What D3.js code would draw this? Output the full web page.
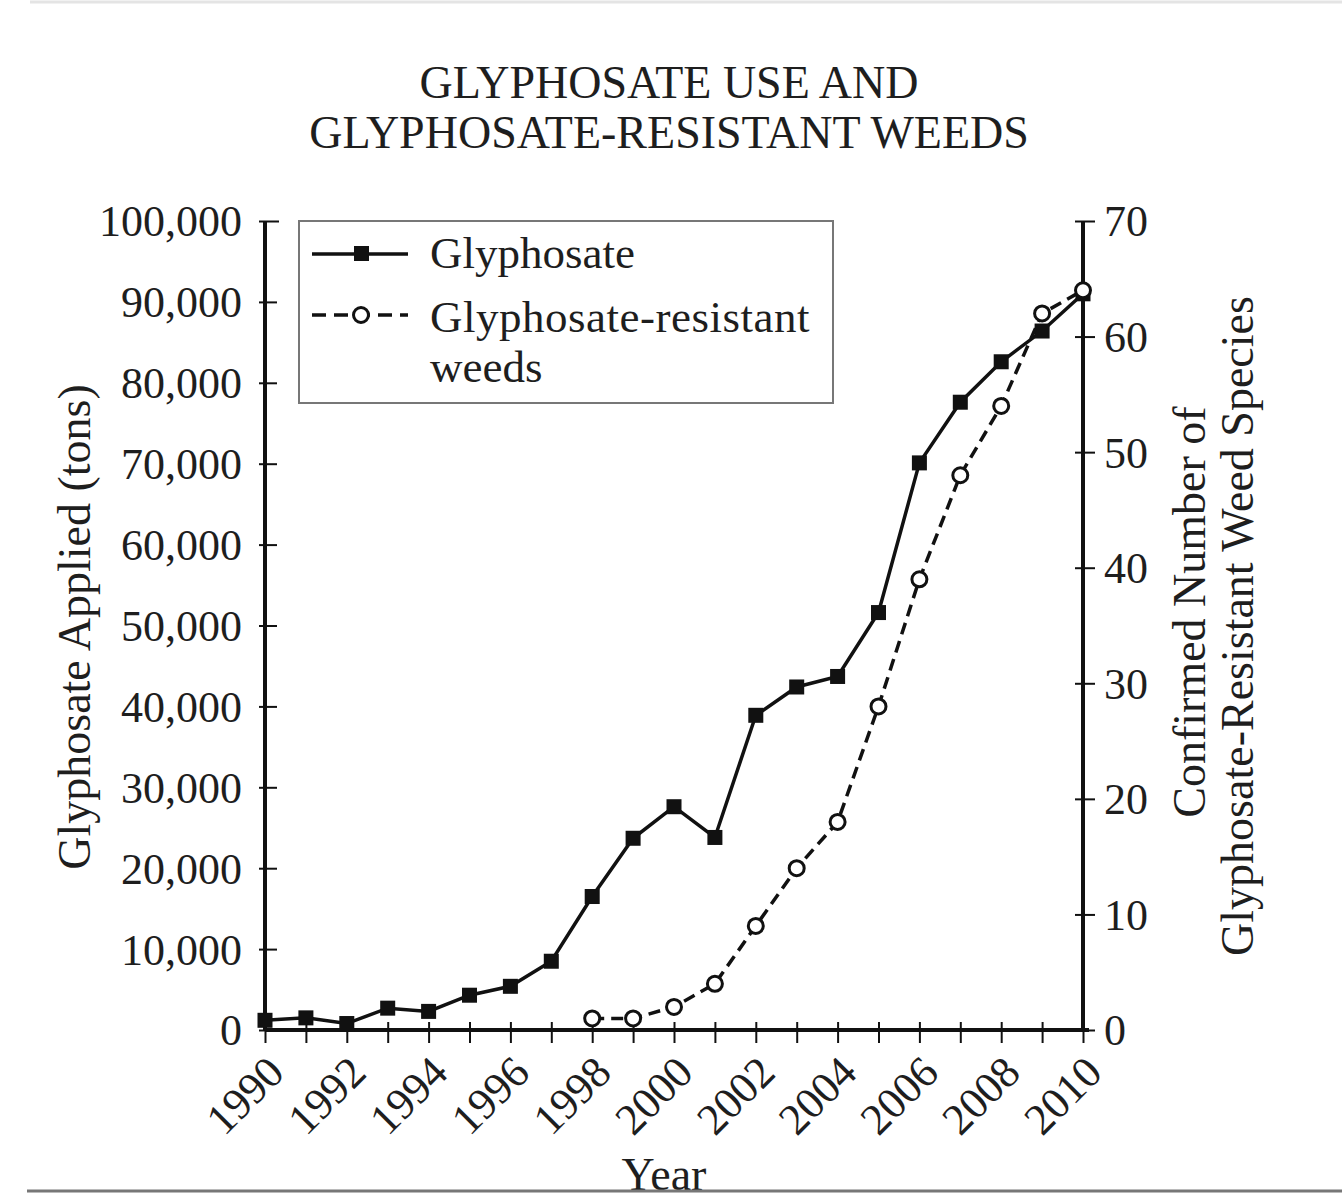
<!DOCTYPE html>
<html>
<head>
<meta charset="utf-8">
<script src="https://cdn.jsdelivr.net/npm/d3@7"></script>
<style>
  html, body { margin: 0; padding: 0; background: #fff; }
  svg { display: block; }
  text { font-family: "Liberation Serif", "Times New Roman", serif; fill: #1e1e1e; }
</style>
</head>
<body>
<svg id="chart" width="1342" height="1200"></svg>
<script>
// ---- data ----
const years = [1990,1991,1992,1993,1994,1995,1996,1997,1998,1999,2000,2001,2002,2003,2004,2005,2006,2007,2008,2009,2010];
const glyphosateTons = [1200,1500,800,2700,2300,4300,5400,8500,16500,23700,27600,23800,38900,42400,43700,51600,70100,77600,82600,86400,91000];
const weedYears = [1998,1999,2000,2001,2002,2003,2004,2005,2006,2007,2008,2009,2010];
const weedSpecies = [1,1,2,4,9,14,18,28,39,48,54,62,64];
const leftTicks = [0,10000,20000,30000,40000,50000,60000,70000,80000,90000,100000];
const rightTicks = [0,10,20,30,40,50,60,70];
const xTickLabels = [1990,1992,1994,1996,1998,2000,2002,2004,2006,2008,2010];
const titleLines = ["GLYPHOSATE USE AND", "GLYPHOSATE-RESISTANT WEEDS"];
const leftTitle = "Glyphosate Applied (tons)";
const rightTitleLines = ["Confirmed Number of", "Glyphosate-Resistant Weed Species"];
const legendLabels = ["Glyphosate", "Glyphosate-resistant", "weeds"];

// ---- layout ----
const svg = d3.select("#chart");
const X0 = 265, X1 = 1083, Y0 = 1030, Y1 = 221;
const x = d3.scaleLinear().domain([1990, 2010]).range([X0, X1]);
const yL = d3.scaleLinear().domain([0, 100000]).range([Y0, Y1]);
const yR = d3.scaleLinear().domain([0, 70]).range([Y0, Y1]);

// page rules
svg.append("line").attr("x1", 30).attr("x2", 1342).attr("y1", 2).attr("y2", 2)
  .attr("stroke", "#e4e4e4").attr("stroke-width", 3);

// title
const title = svg.append("text").attr("text-anchor", "middle").style("font-size", "46px");
titleLines.forEach((t, i) => {
  title.append("tspan").attr("x", 669).attr("y", 98 + i * 50).text(t);
});

// axes
const fmt = d3.format(",");
const gL = svg.append("g").attr("transform", `translate(${X0},0)`)
  .call(d3.axisLeft(yL).tickValues(leftTicks).tickFormat(fmt).tickSize(8).tickPadding(15));
const gR = svg.append("g").attr("transform", `translate(${X1},0)`)
  .call(d3.axisRight(yR).tickValues(rightTicks).tickSize(12).tickPadding(10));
const gX = svg.append("g").attr("transform", `translate(0,${Y0})`)
  .call(d3.axisBottom(x).tickValues(years).tickFormat(d => xTickLabels.includes(d) ? d : "").tickSize(13));

[gL, gR, gX].forEach(g => {
  g.select(".domain").attr("stroke", "#111").attr("stroke-width", 4);
  g.selectAll(".tick line").attr("stroke", "#111").attr("stroke-width", 2);
  g.selectAll("text").style("font-size", "44px").attr("fill", "#1e1e1e")
    .style("font-family", "'Liberation Serif', serif");
});
// ticks cross the axis
gL.selectAll(".tick line").attr("x1", -6).attr("x2", 12);
gR.selectAll(".tick line").attr("x1", -8).attr("x2", 12);
gX.selectAll(".tick line").attr("y1", -8).attr("y2", 13);
gL.selectAll(".domain").attr("d", `M0,${Y0}V${Y1}`);
gR.selectAll(".domain").attr("d", `M0,${Y0}V${Y1}`);
gX.selectAll(".domain").attr("d", `M${X0},0H${X1 + 6}`);
gL.selectAll(".tick line").filter(d => d === 100000).attr("x1", -6).attr("x2", 14);
gL.selectAll("text").attr("dy", "0.34em");
gR.selectAll("text").attr("dy", "0.34em").attr("x", 21);

// rotated x labels
gX.selectAll(".tick text")
  .attr("text-anchor", "end")
  .attr("dy", "0.35em")
  .attr("transform", "translate(10,34) rotate(-45)")
  .attr("y", 0).attr("x", 0);

// axis titles
svg.append("text").attr("text-anchor", "middle").style("font-size", "46px")
  .attr("transform", `translate(90,627) rotate(-90)`).text(leftTitle);
const rt = svg.append("text").attr("text-anchor", "middle").style("font-size", "46px")
  .attr("transform", `translate(1205,626) rotate(-90)`);
rightTitleLines.forEach((t, i) => {
  rt.append("tspan").attr("x", i === 0 ? 14 : 0).attr("y", i * 48).text(t);
});

svg.append("text").attr("text-anchor", "middle").style("font-size", "46px")
  .attr("x", 664).attr("y", 1190).text("Year");
svg.append("line").attr("x1", 27).attr("x2", 1342).attr("y1", 1191).attr("y2", 1191)
  .attr("stroke", "#777").attr("stroke-width", 3);

// series 1: glyphosate
const g1 = years.map((yr, i) => ({ yr, v: glyphosateTons[i] }));
svg.append("path").datum(g1)
  .attr("fill", "none").attr("stroke", "#111").attr("stroke-width", 3.5)
  .attr("d", d3.line().x(d => x(d.yr)).y(d => yL(d.v)));
svg.append("g").selectAll("rect").data(g1).join("rect")
  .attr("x", d => x(d.yr) - 7.5).attr("y", d => yL(d.v) - 7.5)
  .attr("width", 15).attr("height", 15).attr("fill", "#111");

// series 2: weeds
const g2 = weedYears.map((yr, i) => ({ yr, v: weedSpecies[i] }));
svg.append("path").datum(g2)
  .attr("fill", "none").attr("stroke", "#111").attr("stroke-width", 3.5)
  .attr("stroke-dasharray", "12,7")
  .attr("d", d3.line().x(d => x(d.yr)).y(d => yR(d.v)));
svg.append("g").selectAll("circle").data(g2).join("circle")
  .attr("cx", d => x(d.yr)).attr("cy", d => yR(d.v)).attr("r", 7.5)
  .attr("fill", "#fff").attr("stroke", "#111").attr("stroke-width", 3);

// legend
const lg = svg.append("g");
lg.append("rect").attr("x", 299).attr("y", 221).attr("width", 534).attr("height", 182)
  .attr("fill", "#fff").attr("stroke", "#777").attr("stroke-width", 2);
lg.append("line").attr("x1", 312).attr("x2", 408).attr("y1", 254).attr("y2", 254)
  .attr("stroke", "#111").attr("stroke-width", 3.5);
lg.append("rect").attr("x", 354).attr("y", 246).attr("width", 15).attr("height", 15).attr("fill", "#111");
lg.append("line").attr("x1", 312).attr("x2", 408).attr("y1", 315).attr("y2", 315)
  .attr("stroke", "#111").attr("stroke-width", 3.5).attr("stroke-dasharray", "14,8");
lg.append("circle").attr("cx", 361).attr("cy", 315).attr("r", 7.5)
  .attr("fill", "#fff").attr("stroke", "#111").attr("stroke-width", 3);
lg.append("text").attr("x", 430).attr("y", 268).style("font-size", "45px").text(legendLabels[0]);
lg.append("text").attr("x", 430).attr("y", 332).style("font-size", "45px").attr("letter-spacing", "0.5px").text(legendLabels[1]);
lg.append("text").attr("x", 430).attr("y", 382).style("font-size", "45px").text(legendLabels[2]);
</script>
</body>
</html>
